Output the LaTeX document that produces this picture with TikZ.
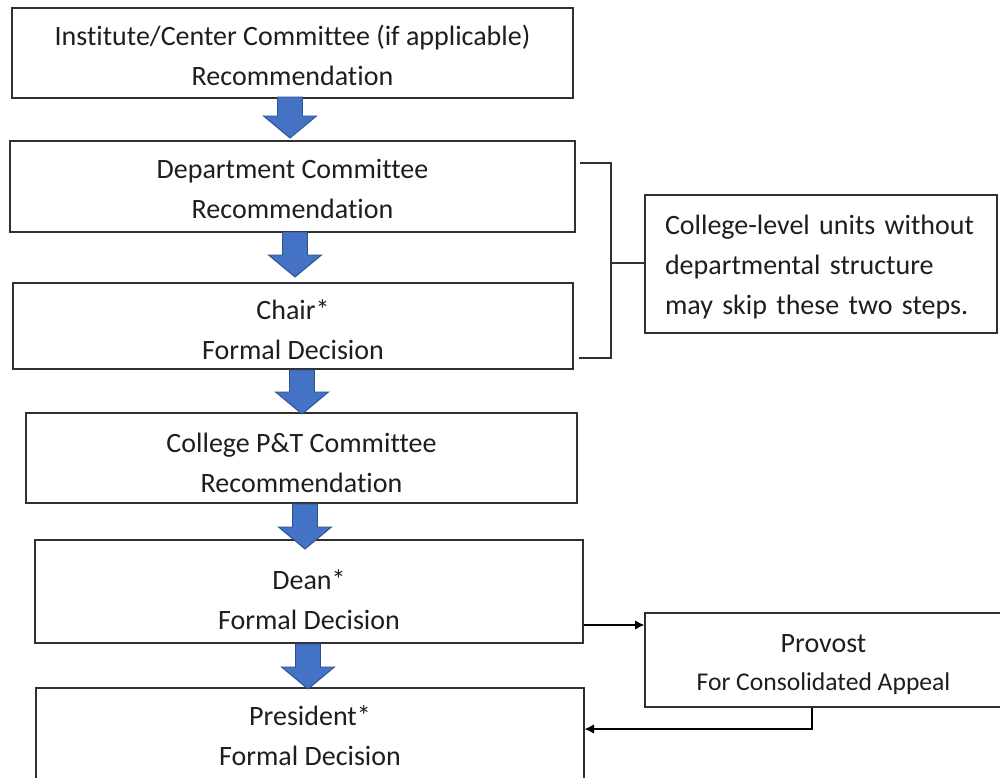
\documentclass[tikz,border=0pt]{standalone}
\usepackage{fontspec}
\setmainfont{Carlito}[Ligatures=NoCommon]
\usetikzlibrary{arrows.meta}
\definecolor{txt}{HTML}{1E1E1E}
\definecolor{boxline}{HTML}{303030}
\definecolor{arrfill}{HTML}{4472C4}
\definecolor{arrline}{HTML}{2F528F}
\tikzset{
  box/.style={draw=boxline, line width=1pt, rectangle, inner sep=0pt},
  lbl/.style={align=center, text=txt, font=\fontsize{21}{30}\selectfont, inner sep=0pt},
  blockarrow/.style={fill=arrfill, draw=arrline, line width=0.7pt, line join=miter},
  conn/.style={draw=black, line width=0.8pt, -{Latex[length=7pt,width=7pt]}},
  brk/.style={draw=boxline, line width=0.8pt}
}
\newcommand\downarr[3]{%
  \draw[blockarrow] (#1-12.5,#2) -- (#1+12.5,#2) -- (#1+12.5,#3-22) -- (#1+26.5,#3-22)
    -- (#1,#3) -- (#1-26.5,#3-22) -- (#1-12.5,#3-22) -- cycle;}
\begin{document}
\begin{tikzpicture}[x=0.75pt,y=-0.75pt]
\useasboundingbox (0,0) rectangle (1000,778);
\clip (0,0) rectangle (1000,778);
\fill[white] (0,0) rectangle (1000,778);

\node[box, minimum width=420.75pt, minimum height=67.5pt,
  label={[lbl, yshift=-1.5pt]center:{Institute/Center Committee (if applicable)\\Recommendation}}]
  (inst) at (292.5,53) {};
\node[box, minimum width=423.75pt, minimum height=68.25pt,
  label={[lbl, yshift=-1.5pt]center:{Department Committee\\Recommendation}}]
  (dept) at (292.5,186.5) {};
\node[box, minimum width=420pt, minimum height=64.5pt,
  label={[lbl, yshift=-3pt]center:{Chair*\\Formal Decision}}]
  (chair) at (293,326) {};
\node[box, minimum width=413.25pt, minimum height=67.5pt,
  label={[lbl, yshift=-3.75pt]center:{College P\&T Committee\\Recommendation}}]
  (coll) at (301.5,458) {};
\node[box, minimum width=411pt, minimum height=77.25pt,
  label={[lbl, yshift=-6pt]center:{Dean*\\Formal Decision}}]
  (dean) at (309,591.5) {};
\node[box, minimum width=411pt, minimum height=72pt,
  label={[lbl]center:{President*\\Formal Decision}}]
  (pres) at (310,736) {};
\node[box, minimum width=264pt, minimum height=103.5pt,
  label={[lbl, align=left, text width=234pt, yshift=-2.25pt]center:{College-level units without\\departmental structure\\may skip these two steps.}}]
  (note) at (821,264) {};
\node[box, minimum width=267.75pt, minimum height=70.5pt,
  label={[lbl, yshift=-3.75pt]center:{Provost\\[-1.5pt]{\fontsize{19.2}{28}\selectfont For Consolidated Appeal}}}]
  (prov) at (823.5,660) {};

% block arrows
\downarr{290}{97}{138}
\downarr{295}{232}{277}
\downarr{302}{370}{414}
\downarr{305}{504}{549}
\downarr{308}{644}{689}

% bracket
\coordinate (bt) at (611,163);
\coordinate (bb) at (611,358);
\coordinate (bm) at (611,263);
\draw[brk] (dept.east |- bt) ++(4,0) -- (bt) -- (bb) -- ++(-32,0);
\draw[brk] (bm) -- (note.west |- bm);

% connectors
\coordinate (y1) at (0,625);
\draw[conn] (dean.east |- y1) -- (prov.west |- y1);
\coordinate (p1) at (812,729);
\draw[conn] (prov.south -| p1) |- (pres.east |- p1);
\end{tikzpicture}
\end{document}
